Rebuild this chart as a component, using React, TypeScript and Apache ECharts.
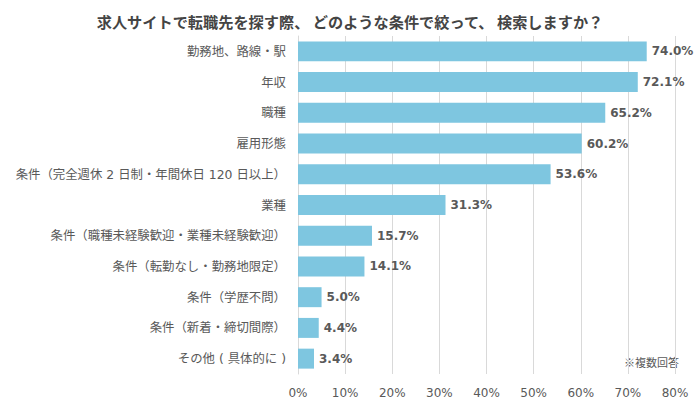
import React, { useEffect, useRef } from "react";
import * as echarts from "echarts";

const title = "求人サイトで転職先を探す際、 どのような条件で絞って、 検索しますか？";
const categories = [
  "勤務地、路線・駅",
  "年収",
  "職種",
  "雇用形態",
  "条件（完全週休 2 日制・年間休日 120 日以上）",
  "業種",
  "条件（職種未経験歓迎・業種未経験歓迎）",
  "条件（転勤なし・勤務地限定）",
  "条件（学歴不問）",
  "条件（新着・締切間際）",
  "その他 ( 具体的に )",
];
const values = [74.0, 72.1, 65.2, 60.2, 53.6, 31.3, 15.7, 14.1, 5.0, 4.4, 3.4];
const note = "※複数回答";

const FONT = "'DejaVu Sans', 'Noto Sans CJK JP', sans-serif";

export default function App() {
  const ref = useRef<HTMLDivElement>(null);
  useEffect(() => {
    document.body.style.margin = "0";
    const chart = echarts.init(ref.current!, undefined, { renderer: "svg" });
    chart.setOption({
      animation: false,
      backgroundColor: "#ffffff",
      title: {
        text: title,
        left: "center",
        top: 8,
        textStyle: {
          fontFamily: "'Noto Sans CJK JP', sans-serif",
          fontSize: 15.2,
          fontWeight: "bold",
          color: "#444444",
        },
      },
      graphic: [
        {
          type: "text",
          right: 21,
          top: 356,
          style: {
            text: note,
            fontFamily: "'Noto Sans CJK JP', sans-serif",
            fontSize: 11,
            fill: "#595959",
          },
        },
      ],
      grid: { left: 298, right: 25, top: 36, bottom: 26, containLabel: false },
      xAxis: {
        type: "value",
        min: 0,
        max: 80,
        interval: 10,
        axisLabel: {
          formatter: "{value}%",
          color: "#595959",
          fontFamily: FONT,
          fontSize: 12,
          margin: 13,
        },
        splitLine: { lineStyle: { color: "#d9d9d9", width: 1 } },
        axisLine: { show: false },
        axisTick: { show: false },
      },
      yAxis: {
        type: "category",
        data: categories,
        inverse: true,
        axisLabel: {
          color: "#595959",
          fontFamily: FONT,
          fontSize: 12.4,
          margin: 12,
        },
        axisLine: { show: true, lineStyle: { color: "#d9d9d9" } },
        axisTick: { show: false },
      },
      series: [
        {
          type: "bar",
          data: values,
          barCategoryGap: "35%",
          itemStyle: { color: "#7EC6E0" },
          label: {
            show: true,
            position: "right",
            distance: 5,
            formatter: (p: any) => p.value.toFixed(1) + "%",
            color: "#595959",
            fontFamily: FONT,
            fontWeight: "bold",
            fontSize: 12,
          },
        },
      ],
    });
    return () => chart.dispose();
  }, []);
  return <div ref={ref} style={{ width: 700, height: 400 }} />;
}
